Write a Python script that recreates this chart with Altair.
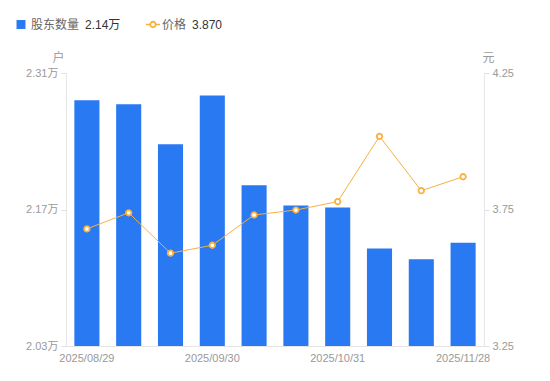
import altair as alt
import pandas as pd

dates = ["2025/08/29", "2025/09/10", "2025/09/19", "2025/09/30", "2025/10/10",
         "2025/10/20", "2025/10/31", "2025/11/10", "2025/11/20", "2025/11/28"]
holders = [2.282, 2.278, 2.237, 2.287, 2.195, 2.174, 2.172, 2.130, 2.119, 2.136]  # 万户
price = [3.679, 3.738, 3.590, 3.619, 3.730, 3.748, 3.779, 4.018, 3.819, 3.870]
x_ticks = ["2025/08/29", "2025/09/30", "2025/10/31", "2025/11/28"]
left_ticks = [2.03, 2.17, 2.31]
right_ticks = [3.25, 3.75, 4.25]

BLUE = "#2979f2"
ORANGE = "#f7b13f"
FONT = "Liberation Sans, Noto Sans CJK SC, sans-serif"

df = pd.DataFrame({"date": dates, "holders": holders, "price": price})

W, H = 418, 273

xenc = alt.X("date:N", sort=dates,
             scale=alt.Scale(paddingInner=0.4, paddingOuter=0.2),
             axis=alt.Axis(values=x_ticks, labelAngle=0, ticks=False, title=None,
                           labelPadding=6, labelFontSize=11, labelColor="#999999",
                           domainColor="#e6e6e6"))

bars = alt.Chart(df).mark_bar(color=BLUE).encode(
    x=xenc,
    y=alt.Y("holders:Q",
            scale=alt.Scale(domain=[2.03, 2.31], zero=False, nice=False),
            axis=alt.Axis(values=left_ticks, labelExpr="format(datum.value, '.2f') + '万'",
                          title="户", titleAngle=0, titleX=-8, titleY=-16,
                          titleAlign="center", titleBaseline="middle",
                          titleFontWeight="normal", titleColor="#999999", titleFontSize=12,
                          labelColor="#999999", labelFontSize=11, tickSize=5,
                          labelPadding=3, tickColor="#e0e0e0", domainColor="#e6e6e6",
                          grid=False, orient="left")),
    y2=alt.datum(2.03),
)

line = alt.Chart(df).mark_line(
    color=ORANGE, strokeWidth=1,
    point=alt.OverlayMarkDef(filled=True, fill="white", stroke=ORANGE, strokeWidth=1.8, size=30),
).encode(
    x=alt.X("date:N", sort=dates),
    y=alt.Y("price:Q",
            scale=alt.Scale(domain=[3.25, 4.25], zero=False, nice=False),
            axis=alt.Axis(values=right_ticks, format=".2f",
                          title="元", titleAngle=0, titleX=4, titleY=-16,
                          titleAlign="center", titleBaseline="middle",
                          titleFontWeight="normal", titleColor="#999999", titleFontSize=12,
                          labelColor="#999999", labelFontSize=11, tickSize=5,
                          labelPadding=3, tickColor="#e0e0e0", domainColor="#e6e6e6",
                          grid=False, orient="right")),
)

one = pd.DataFrame({"k": [0]})
leg_y = -48.5
leg_sq = alt.Chart(one).mark_square(color=BLUE, size=80, opacity=1, filled=True).encode(
    x=alt.value(21 - 66), y=alt.value(leg_y))
leg_t1 = alt.Chart(one).mark_text(text="股东数量", align="left", baseline="middle",
                                  fontSize=12, color="#666666", font=FONT).encode(
    x=alt.value(31 - 66), y=alt.value(leg_y))
leg_v1 = alt.Chart(one).mark_text(text=f"{holders[-1]:.2f}万", align="left", baseline="middle",
                                  fontSize=12, color="#333333", font=FONT).encode(
    x=alt.value(85 - 66), y=alt.value(leg_y))
leg_rule = alt.Chart(one).mark_rule(color=ORANGE, strokeWidth=1.5).encode(
    x=alt.value(146 - 66), x2=alt.value(160 - 66), y=alt.value(leg_y))
leg_pt = alt.Chart(one).mark_point(filled=True, fill="white", stroke=ORANGE,
                                   strokeWidth=1.8, size=30, opacity=1).encode(
    x=alt.value(153 - 66), y=alt.value(leg_y))
leg_t2 = alt.Chart(one).mark_text(text="价格", align="left", baseline="middle",
                                  fontSize=12, color="#666666", font=FONT).encode(
    x=alt.value(162 - 66), y=alt.value(leg_y))
leg_v2 = alt.Chart(one).mark_text(text=f"{price[-1]:.3f}", align="left", baseline="middle",
                                  fontSize=12, color="#333333", font=FONT).encode(
    x=alt.value(192 - 66), y=alt.value(leg_y))

chart = alt.layer(bars, line, leg_sq, leg_t1, leg_v1, leg_rule, leg_pt, leg_t2, leg_v2).resolve_scale(
    y="independent"
).properties(
    width=W, height=H,
    autosize=alt.AutoSizeParams(type="none"),
    padding={"left": 58, "top": 65, "right": 58, "bottom": 27},
).configure(font=FONT).configure_view(strokeWidth=0, strokeOpacity=0).configure_axis(labelFont=FONT, titleFont=FONT)

chart.save("out.html", embed_options={"renderer": "svg", "actions": False})
